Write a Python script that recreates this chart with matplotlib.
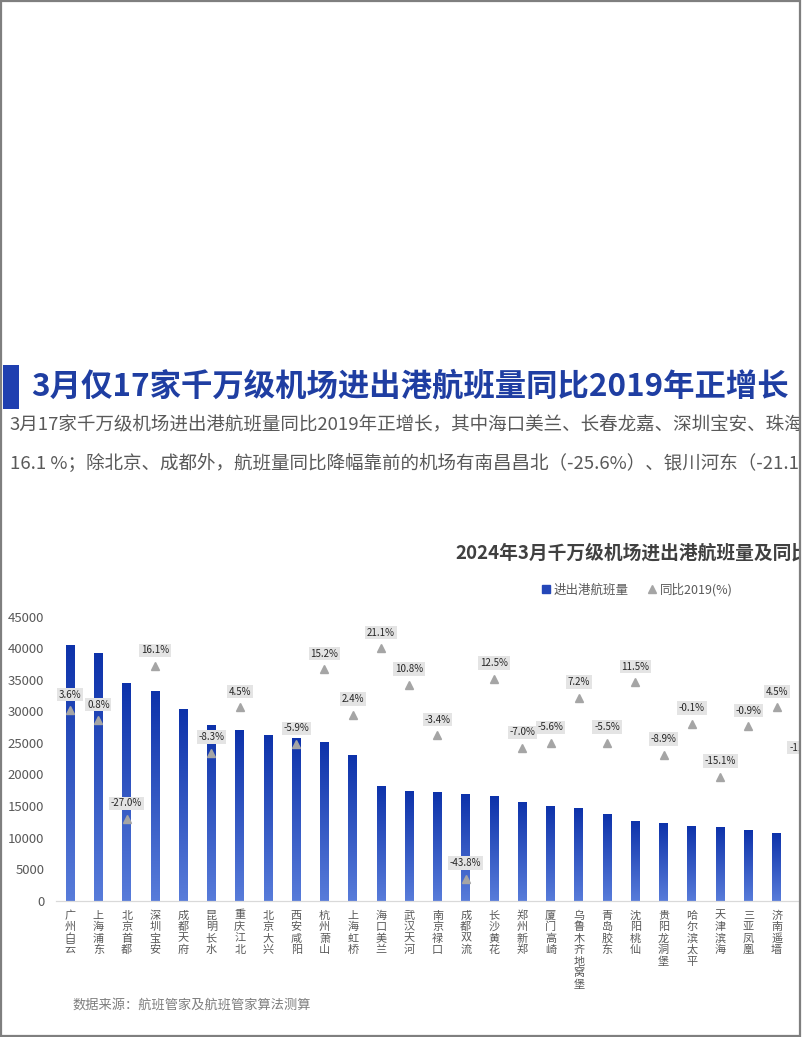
import matplotlib
matplotlib.use('Agg')
import matplotlib.pyplot as plt
import numpy as np
from matplotlib.patches import Rectangle
from matplotlib.lines import Line2D
from matplotlib.colors import LinearSegmentedColormap

plt.rcParams['font.family'] = ['Noto Sans CJK SC', 'DejaVu Sans']

# ---------------- data ----------------
airports = ["广州白云", "上海浦东", "北京首都", "深圳宝安", "成都天府", "昆明长水",
            "重庆江北", "北京大兴", "西安咸阳", "杭州萧山", "上海虹桥", "海口美兰",
            "武汉天河", "南京禄口", "成都双流", "长沙黄花", "郑州新郑", "厦门高崎",
            "乌鲁木齐地窝堡", "青岛胶东", "沈阳桃仙", "贵阳龙洞堡", "哈尔滨太平",
            "天津滨海", "三亚凤凰", "济南遥墙", "南宁吴圩"]
flights = [40500, 39250, 34500, 33300, 30300, 27850, 27050, 26250, 25850, 25100,
           23050, 18250, 17400, 17150, 16850, 16550, 15700, 15050, 14650, 13700,
           12700, 12250, 11800, 11650, 11250, 10700, 10500]
yoy_2019 = [3.6, 0.8, -27.0, 16.1, np.nan, -8.3, 4.5, np.nan, -5.9, 15.2,
            2.4, 21.1, 10.8, -3.4, -43.8, 12.5, -7.0, -5.6, 7.2, -5.5,
            11.5, -8.9, -0.1, -15.1, -0.9, 4.5, -11.3]
yticks = [0, 5000, 10000, 15000, 20000, 25000, 30000, 35000, 40000, 45000]

page_title = "3月仅17家千万级机场进出港航班量同比2019年正增长"
para1 = "3月17家千万级机场进出港航班量同比2019年正增长，其中海口美兰、长春龙嘉、深圳宝安、珠海金湾增幅较大"
para2 = "16.1 %；除北京、成都外，航班量同比降幅靠前的机场有南昌昌北（-25.6%）、银川河东（-21.1%）"
chart_title = "2024年3月千万级机场进出港航班量及同比2019年情况"
legend_labels = ["进出港航班量", "同比2019(%)"]
source = "数据来源：航班管家及航班管家算法测算"

# ---------------- figure ----------------
W, H = 802, 1037
fig = plt.figure(figsize=(W / 100, H / 100), dpi=100)
fig.patch.set_facecolor('white')

def fx(px):
    return px / W

def fy(py):
    return 1 - py / H

# Title block
fig.add_artist(Rectangle((fx(3), fy(409)), fx(16), (409 - 365) / H,
                         transform=fig.transFigure, color='#1f3fb0', lw=0))
fig.text(fx(31), fy(387), page_title, fontsize=22.6, fontweight='bold',
         color='#1f3ea2', ha='left', va='center')
fig.text(fx(10), fy(424), para1, fontsize=13.35, color='#595959', ha='left', va='center')
fig.text(fx(10), fy(463), para2, fontsize=13.35, color='#595959', ha='left', va='center')

# Chart title & legend
fig.text(fx(455), fy(553), chart_title, fontsize=13.5, fontweight='bold',
         color='#404040', ha='left', va='center')
handles = [Line2D([], [], marker='s', color='#2447b8', ls='none', markersize=5.5),
           Line2D([], [], marker='^', color='#a5a5a5', ls='none', markersize=6)]
fig.legend(handles=handles, labels=legend_labels, loc='center',
           bbox_to_anchor=(fx(636), fy(590)), ncol=2, frameon=False,
           fontsize=9, handletextpad=0.1, columnspacing=1.4, labelcolor='#595959',
           handlelength=1.0)

# Axes
ax_left, ax_right = 56, 819
ax_bottom, ax_top = 900.7, 616.7
ax = fig.add_axes([fx(ax_left), fy(ax_bottom), (ax_right - ax_left) / W,
                   (ax_bottom - ax_top) / H])
n = len(airports)
x = np.arange(n)
bars = ax.bar(x, flights, width=0.31, color='none', edgecolor='none', zorder=2)

cmap = LinearSegmentedColormap.from_list('blu', ['#587cda', '#0d32aa'])
grad = np.linspace(0, 1, 256).reshape(-1, 1)
for p in bars.patches:
    x0, y0 = p.get_x(), p.get_y()
    w, h = p.get_width(), p.get_height()
    im = ax.imshow(grad, extent=[x0, x0 + w, y0, y0 + h], origin='lower',
                   aspect='auto', cmap=cmap, zorder=2)
    im.set_clip_path(p)

ax.set_xlim(-0.5, n - 0.5)
ax.set_ylim(0, 45000)
ax.set_yticks(yticks)
ax.set_yticklabels([str(t) for t in yticks], fontsize=9.5, color='#595959')
ax.set_xticks(x)
ax.set_xticklabels([""] * n)
ax.tick_params(axis='both', length=0)
ax.tick_params(axis='y', pad=8.5)
for s in ['left', 'top', 'right']:
    ax.spines[s].set_visible(False)
ax.spines['bottom'].set_color('#d9d9d9')
ax.spines['bottom'].set_linewidth(0.9)
ax.set_facecolor('none')

# vertical (stacked) category labels
first_off = 14.8 * 0.72   # px -> pt
step = 11.5 * 0.72
for i, name in enumerate(airports):
    for k, ch in enumerate(name):
        ax.annotate(ch, (i, 0), xycoords=('data', 'axes fraction'),
                    xytext=(0, -(first_off + k * step)), textcoords='offset points',
                    ha='center', va='center', fontsize=8, color='#595959',
                    annotation_clip=False)

# Secondary axis
ax2 = ax.twinx()
ax2.set_ylim(-50, 30)
ax2.set_yticks([])
for s in ax2.spines.values():
    s.set_visible(False)
yv = np.array(yoy_2019, dtype=float)
ax2.plot(x, yv, ls='none', marker='^', markersize=6.2, color='#a5a5a5', zorder=3)
for i, v in enumerate(yv):
    if np.isnan(v):
        continue
    ax2.annotate(f"{v:.1f}%", (i, v), xytext=(0, 11.3), textcoords='offset points',
                 ha='center', va='center', fontsize=7, color='#262626',
                 bbox=dict(boxstyle='square,pad=0.18', fc='#e4e4e4', ec='none'),
                 zorder=4)

# Source
fig.text(fx(72), fy(1005), source, fontsize=9.5, color='#7f7f7f', ha='left', va='center')

# Page frame
fig.add_artist(Rectangle((fx(800.5), 0), 1 - fx(800.5), 1, transform=fig.transFigure,
                         color='white', lw=0, zorder=50))
fig.add_artist(Rectangle((fx(1), fy(1035.5)), fx(799.5) - fx(1), fy(1) - fy(1035.5),
                         transform=fig.transFigure, fill=False, edgecolor='#7f7f7f',
                         lw=1.6, zorder=51))

fig.savefig('out.png', dpi=100, facecolor='white')
